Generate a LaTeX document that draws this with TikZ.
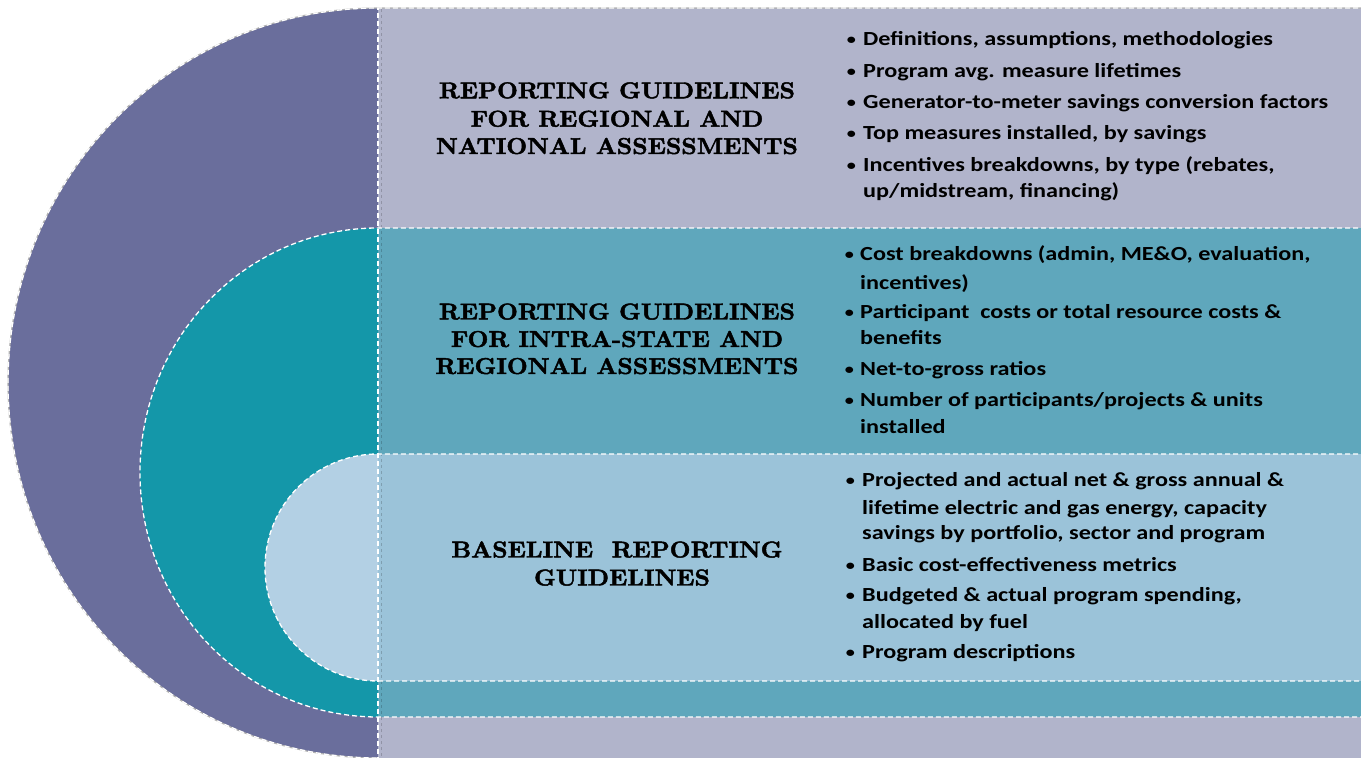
\documentclass[tikz,border=0pt]{standalone}
\usepackage{fontspec}
\newfontfamily\bodyfont{Carlito}[FakeStretch=1.21]
\newfontfamily\headfont{lmroman10-bold.otf}[FakeStretch=1.05,FakeBold=2]
\definecolor{outerdisk}{HTML}{6A6E9C}
\definecolor{outerband}{HTML}{B1B4CB}
\definecolor{middisk}{HTML}{1497A9}
\definecolor{midband}{HTML}{5FA7BC}
\definecolor{innerdisk}{HTML}{B3D0E4}
\definecolor{innerband}{HTML}{9BC3D9}
\tikzset{
  seam/.style={draw=white, line width=1.3bp, dash pattern=on 5bp off 3bp},
  rim/.style={draw=black!30, line width=1.2bp},
  shade line/.style={draw=black, opacity=0.18, line width=1.6bp, dash pattern=on 3bp off 3bp},
  heading/.style={anchor=base, inner sep=0pt, font=\headfont\fontsize{23bp}{28bp}\selectfont},
  itemtext/.style={anchor=base west, inner sep=0pt, font=\bodyfont\fontsize{20bp}{26bp}\selectfont\bfseries},
  bulletmark/.style={anchor=base, inner sep=0pt, font=\bodyfont\fontsize{15bp}{20bp}\selectfont\bfseries},
}
\newcommand\dotmark{\raisebox{1.2bp}{•}}
\begin{document}
\begin{tikzpicture}[x=1bp,y=1bp]
\useasboundingbox (0,0) rectangle (1361,757);
\clip (0,0) rectangle (1361,757);

% outer level: half disk and its band
\fill[outerdisk] (378,749) arc[start angle=90,end angle=270,x radius=370,y radius=375] -- cycle;
\fill[outerband] (378,-5) rectangle (1366,749);
% middle level
\fill[middisk] (378,529) arc[start angle=90,end angle=270,x radius=238,y radius=244.5] -- cycle;
\fill[midband] (378,40) rectangle (1366,529);
% inner level
\fill[innerdisk] (378,303) arc[start angle=90,end angle=270,x radius=113,y radius=113.5] -- cycle;
\fill[innerband] (378,76) rectangle (1366,303);

% seams between the levels
\draw[rim] (1366,749) -- (378,749) arc[start angle=90,end angle=270,x radius=370,y radius=375];
\draw[seam] (1366,749) -- (378,749) arc[start angle=90,end angle=270,x radius=370,y radius=375];
\draw[shade line] (381.5,-5) -- (381.5,749);
\draw[seam] (378,-5) -- (378,749);
\draw[seam] (1366,529) -- (378,529) arc[start angle=90,end angle=270,x radius=238,y radius=244.5] -- (1366,40);
\draw[seam] (1366,303) -- (378,303) arc[start angle=90,end angle=270,x radius=113,y radius=113.5] -- (1366,76);

% headings
\node[heading] (h1a) at (617,658.7) {REPORTING GUIDELINES};
\node[heading] (h1b) at (617,630.3) {FOR REGIONAL AND};
\node[heading] (h1c) at (617,603) {NATIONAL ASSESSMENTS};
\node[heading] (h2a) at (617,437.5) {REPORTING GUIDELINES};
\node[heading] (h2b) at (617,410) {FOR INTRA-STATE AND};
\node[heading] (h2c) at (617,383) {REGIONAL ASSESSMENTS};
\node[heading] (h3a) at (617,199.5) {BASELINE\ \ REPORTING};
\node[heading] (h3b) at (622,171.5) {GUIDELINES};

% outer level items
\foreach \y/\t [count=\i] in {711/{Definitions, assumptions, methodologies},
    679.7/{Program avg. measure lifetimes},
    648/{Generator-to-meter savings conversion factors},
    617/{Top measures installed, by savings},
    585.3/{Incentives breakdowns, by type (rebates,}}
  {\node[bulletmark] (b1\i) at (851.5,\y) {\dotmark};
   \node[itemtext] (t1\i) at (863,\y) {\t};}
\node[itemtext] (t1w) at (863,559) {up/midstream, financing)};

% middle level items
\foreach \y/\t [count=\i] in {496/{Cost breakdowns (admin, ME\&O, evaluation,},
    438.7/{Participant\ \ costs or total resource costs \&},
    381/{Net-to-gross ratios},
    350.3/{Number of participants/projects \& units}}
  {\node[bulletmark] (b2\i) at (849.5,\y) {\dotmark};
   \node[itemtext] (t2\i) at (860,\y) {\t};}
\node[itemtext] (t2w1) at (860,467.7) {incentives)};
\node[itemtext] (t2w2) at (860,412) {benefits};
\node[itemtext] (t2w3) at (860,323.7) {installed};

% inner level items
\foreach \y/\t [count=\i] in {270.3/{Projected and actual net \& gross annual \&},
    185.3/{Basic cost-effectiveness metrics},
    155.3/{Budgeted \& actual program spending,},
    98/{Program descriptions}}
  {\node[bulletmark] (b3\i) at (850.5,\y) {\dotmark};
   \node[itemtext] (t3\i) at (862,\y) {\t};}
\node[itemtext] (t3w1) at (862,242.7) {lifetime electric and gas energy, capacity};
\node[itemtext] (t3w2) at (862,217) {savings by portfolio, sector and program};
\node[itemtext] (t3w3) at (862,128.7) {allocated by fuel};
\end{tikzpicture}
\end{document}
